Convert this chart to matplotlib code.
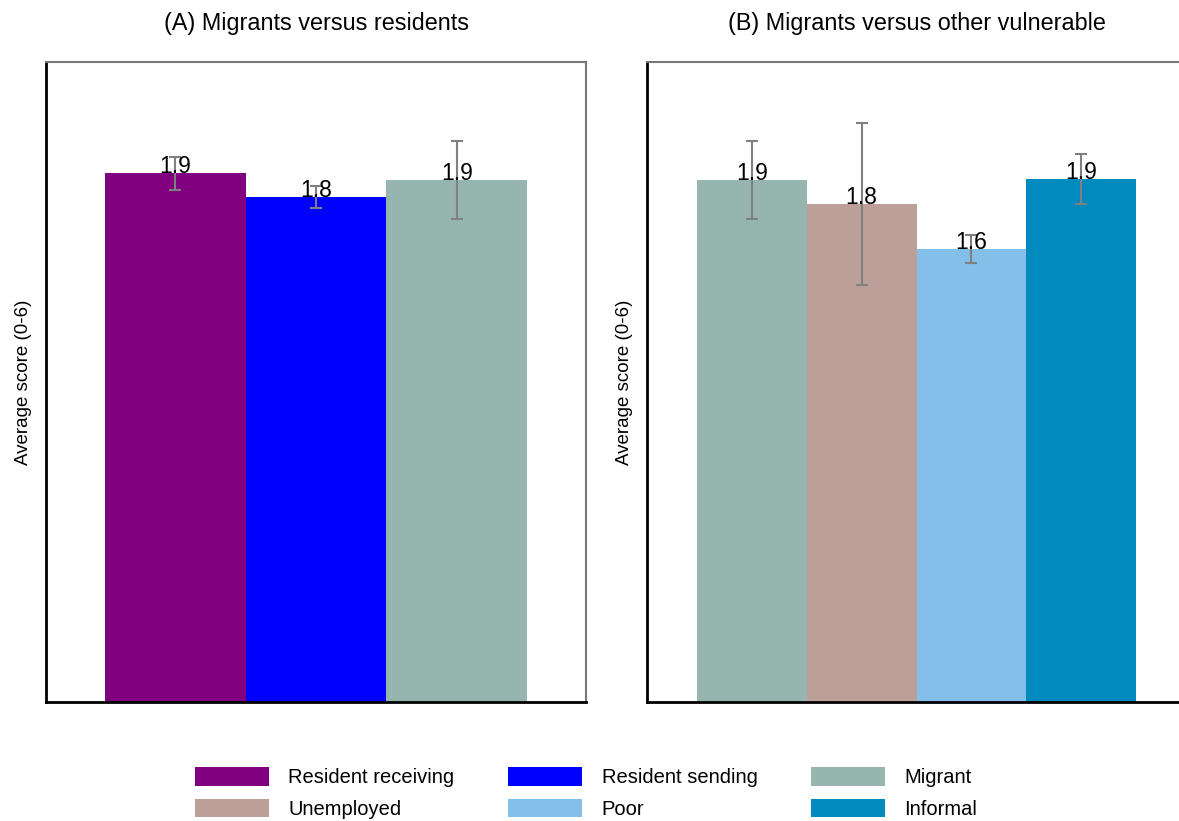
import matplotlib
matplotlib.use("Agg")
from matplotlib import pyplot as plt
from matplotlib.patches import Patch

plt.rcParams['font.family'] = ['Liberation Sans', 'DejaVu Sans']

# panel A
groups_a = ["Resident receiving", "Resident sending", "Migrant"]
means_a = [1.90, 1.815, 1.876]
errs_a = [0.06, 0.04, 0.14]

# panel B
groups_b = ["Migrant", "Unemployed", "Poor", "Informal"]
means_b = [1.876, 1.79, 1.628, 1.88]
errs_b = [0.14, 0.29, 0.05, 0.09]

titles = ["(A) Migrants versus residents", "(B) Migrants versus other vulnerable"]

colors = {
    "Resident receiving": "#800080",
    "Resident sending": "#0000ff",
    "Migrant": "#97b5af",
    "Unemployed": "#bc9f99",
    "Poor": "#83bfe9",
    "Informal": "#008abd",
}

fig = plt.figure(figsize=(11.79, 8.21), dpi=100)
ax1 = fig.add_axes([46/1179, 119/821, 540/1179, 640/821])
ax2 = fig.add_axes([647/1179, 119/821, 539/1179, 640/821])


def draw_panel(ax, groups, means, errs, title, margin):
    x = list(range(len(groups)))
    ax.bar(x, means, width=1.0, color=[colors[g] for g in groups], zorder=1)
    ax.errorbar(x, means, yerr=errs, fmt='none', ecolor='#808080',
                elinewidth=1.5, capsize=4.5, capthick=1.5, zorder=2)
    for xi, m in zip(x, means):
        ax.text(xi, m, f"{m:.1f}", ha='center', va='baseline', fontsize=16.5, zorder=3)
    ax.set_xlim(-0.5 - margin, len(groups) - 0.5 + margin)
    ax.set_ylim(0, 2.3)
    ax.set_xticks([])
    ax.set_yticks([])
    ax.set_ylabel("Average score (0-6)", fontsize=13.5, labelpad=10)
    ax.set_title(title, fontsize=16.8, pad=23)
    for s in ['left', 'bottom']:
        ax.spines[s].set_color('black')
        ax.spines[s].set_linewidth(2)
    for s in ['top', 'right']:
        ax.spines[s].set_color('#777777')
        ax.spines[s].set_linewidth(1.5)


draw_panel(ax1, groups_a, means_a, errs_a, titles[0], 59/141)
draw_panel(ax2, groups_b, means_b, errs_b, titles[1], 50/110)

# legend, row order reordered column-major for ncol=3
order = ["Resident receiving", "Unemployed", "Resident sending", "Poor", "Migrant", "Informal"]
handles = [Patch(facecolor=colors[g], edgecolor='none', label=g) for g in order]
fig.legend(handles=handles, loc='center', bbox_to_anchor=(586/1179, 1 - 793/821), ncol=3,
           frameon=False, fontsize=14.5, handlelength=3.7, handleheight=1.05,
           handletextpad=0.95, columnspacing=2.65, labelspacing=0.55)

fig.savefig("out.png", dpi=100)
